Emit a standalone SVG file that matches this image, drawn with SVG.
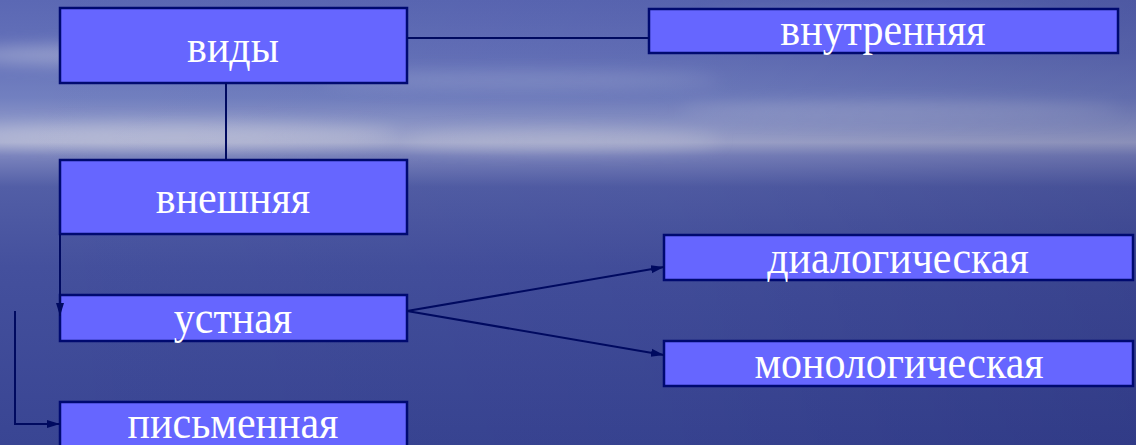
<svg xmlns="http://www.w3.org/2000/svg" width="1136" height="445" viewBox="0 0 1136 445">
<style>
.box{fill:#6666ff;stroke:#000a70;stroke-width:2.5}
.lbl{font-family:"Liberation Serif","Times New Roman",serif;font-size:42px;fill:#ffffff;text-anchor:middle}
.ln{stroke:#000a60;stroke-width:2;fill:none}
</style>
<defs>
<linearGradient id="bg" x1="0" y1="0" x2="0" y2="1">
<stop offset="0" stop-color="#5b68b4"/>
<stop offset="0.12" stop-color="#6471b9"/>
<stop offset="0.22" stop-color="#7280c0"/>
<stop offset="0.29" stop-color="#939cca"/>
<stop offset="0.32" stop-color="#a3a9ce"/>
<stop offset="0.35" stop-color="#7a83bd"/>
<stop offset="0.42" stop-color="#525ea6"/>
<stop offset="0.6" stop-color="#44509d"/>
<stop offset="1" stop-color="#394593"/>
</linearGradient>
<linearGradient id="side" x1="0" y1="0" x2="1" y2="0">
<stop offset="0" stop-color="#000040" stop-opacity="0"/>
<stop offset="0.6" stop-color="#000040" stop-opacity="0.05"/>
<stop offset="1" stop-color="#000040" stop-opacity="0.15"/>
</linearGradient>
<filter id="blur" x="-20%" y="-50%" width="140%" height="200%"><feGaussianBlur stdDeviation="8"/></filter>
<marker id="ah" markerWidth="14" markerHeight="10" refX="13" refY="5" orient="auto" markerUnits="userSpaceOnUse">
<path d="M0,1 L13,5 L0,9 Z" fill="#000a60"/>
</marker>
</defs>
<rect width="1136" height="445" fill="url(#bg)"/>
<g filter="url(#blur)" opacity="0.5">
<ellipse cx="120" cy="55" rx="160" ry="10" fill="#c8cce0"/>
<ellipse cx="520" cy="80" rx="200" ry="8" fill="#9aa4d2"/>
<ellipse cx="180" cy="135" rx="220" ry="12" fill="#d0d2e0"/>
<ellipse cx="560" cy="140" rx="160" ry="10" fill="#c6c9dc"/>
<ellipse cx="900" cy="110" rx="220" ry="9" fill="#a8b0d6"/>
<ellipse cx="880" cy="20" rx="180" ry="10" fill="#8a96cc"/>
</g>
<rect width="1136" height="445" fill="url(#side)"/>
<g id="node-vidy">
<rect class="box" x="60" y="8" width="347" height="75"/>
<text class="lbl" transform="translate(233 62) scale(1 1.1)">виды</text>
</g>
<g id="node-vnutrennyaya">
<rect class="box" x="649" y="9" width="469" height="44"/>
<text class="lbl" transform="translate(883 45) scale(1 1.1)">внутренняя</text>
</g>
<g id="node-vneshnyaya">
<rect class="box" x="60" y="160" width="347" height="74"/>
<text class="lbl" transform="translate(233 213) scale(1 1.1)">внешняя</text>
</g>
<g id="node-ustnaya">
<rect class="box" x="60" y="295" width="347" height="46"/>
<text class="lbl" transform="translate(233 333) scale(1 1.1)">устная</text>
</g>
<g id="node-pismennaya">
<rect class="box" x="60" y="402" width="347" height="60"/>
<text class="lbl" transform="translate(233 438) scale(1 1.1)">письменная</text>
</g>
<g id="node-dialog">
<rect class="box" x="664" y="235" width="469" height="45"/>
<text class="lbl" transform="translate(898 273) scale(1 1.1)">диалогическая</text>
</g>
<g id="node-monolog">
<rect class="box" x="664" y="341" width="469" height="45"/>
<text class="lbl" transform="translate(899 378) scale(1 1.1)">монологическая</text>
</g>
<g id="connectors">
<line class="ln" x1="407" y1="38" x2="649" y2="38"/>
<line class="ln" x1="226" y1="83" x2="226" y2="160"/>
<line class="ln" x1="60" y1="234" x2="60" y2="316" marker-end="url(#ah)"/>
<polyline class="ln" points="15,311 15,424 60,424" marker-end="url(#ah)"/>
<line class="ln" x1="407" y1="311" x2="664" y2="267" marker-end="url(#ah)"/>
<line class="ln" x1="407" y1="311" x2="664" y2="355" marker-end="url(#ah)"/>
</g>
</svg>
